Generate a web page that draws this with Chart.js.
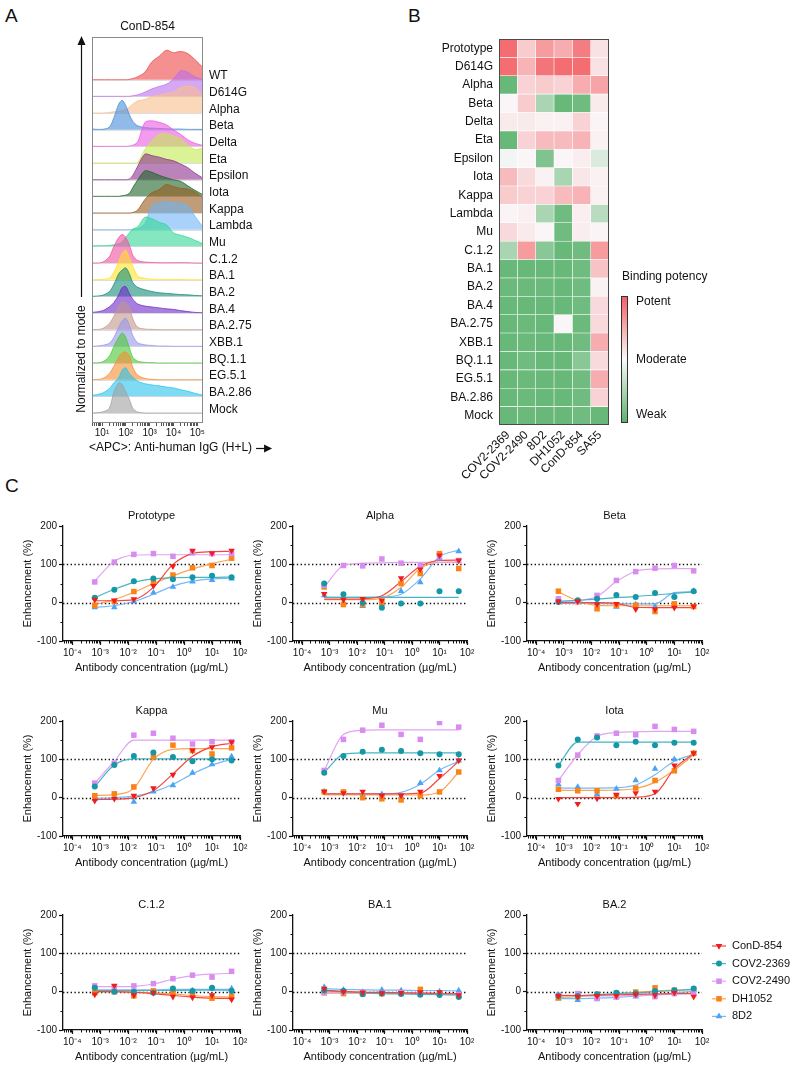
<!DOCTYPE html>
<html>
<head>
<meta charset="utf-8">
<script src="https://cdn.jsdelivr.net/npm/chart.js@4.4.1/dist/chart.umd.min.js"></script>
<style>
  body { margin: 0; background: #fff; }
  #fig { position: relative; width: 793px; height: 1068px; overflow: hidden; font-family: "Liberation Sans", Arial, sans-serif; }
  .pane { position: absolute; }
  .tag { position: absolute; font-size: 19px; color: #111; line-height: 1; }
</style>
</head>
<body>
<div id="fig">
  <div class="tag" style="left:5px;top:6px">A</div>
  <div class="tag" style="left:408px;top:6px">B</div>
  <div class="tag" style="left:5px;top:476px">C</div>
  <div class="pane" style="left:0;top:0;width:300px;height:470px"><canvas id="histo"></canvas></div>
  <div class="pane" style="left:400px;top:0;width:393px;height:500px"><canvas id="heat"></canvas></div>
</div>
<script>
const ff = '"Liberation Sans", Arial, sans-serif';
Chart.defaults.font.family = ff;
Chart.defaults.font.size = 10;
Chart.defaults.color = '#111';
Chart.defaults.animation = false;
Chart.defaults.plugins.legend.display = false;
Chart.defaults.plugins.tooltip.enabled = false;

// ---------- A: flow histograms (log10 fluorescence, height normalised to mode)
const histX = [0.6, 1.0, 1.3, 1.5, 1.7, 1.85, 2.0, 2.15, 2.3, 2.5, 2.8, 3.1, 3.4, 3.7, 4.0, 4.3, 4.6, 4.9, 5.24];
const histNames = ['WT', 'D614G', 'Alpha', 'Beta', 'Delta', 'Eta', 'Epsilon', 'Iota', 'Kappa', 'Lambda', 'Mu',
  'C.1.2', 'BA.1', 'BA.2', 'BA.4', 'BA.2.75', 'XBB.1', 'BQ.1.1', 'EG.5.1', 'BA.2.86', 'Mock'];
const histWT      = [0,0,0,0,0,0,0,0.01,0.04,0.1,0.25,0.6,0.78,0.98,0.9,0.94,0.87,0.67,0.4];
const histD614G   = [0,0,0,0,0,0,0,0,0.02,0.05,0.14,0.25,0.33,0.4,0.58,0.85,0.8,0.65,0.55];
const histAlpha   = [0,0,0.02,0.04,0.06,0.08,0.12,0.2,0.3,0.4,0.45,0.55,0.6,0.65,0.7,0.85,0.9,0.85,0.6];
const histBeta    = [0.02,0.01,0.08,0.4,0.85,0.98,0.8,0.5,0.27,0.13,0.07,0.05,0.04,0.03,0.02,0.02,0.01,0.01,0.01];
const histDelta   = [0,0,0,0,0,0,0,0.01,0.04,0.15,0.8,0.85,0.8,0.72,0.55,0.4,0.22,0.1,0.03];
const histEta     = [0,0,0,0,0,0,0,0,0,0.02,0.45,0.75,0.95,0.97,0.9,0.8,0.6,0.45,0.5];
const histEpsilon = [0,0,0,0,0,0,0,0.02,0.15,0.45,0.85,0.8,0.75,0.68,0.63,0.52,0.4,0.22,0.05];
const histIota    = [0,0,0,0,0,0.02,0.04,0.1,0.3,0.55,0.85,0.8,0.7,0.62,0.55,0.5,0.35,0.2,0.05];
const histKappa   = [0,0,0,0,0,0,0,0,0.02,0.1,0.45,0.68,0.78,0.95,0.88,0.82,0.8,0.7,0.5];
const histLambda  = [0,0,0,0,0,0,0,0,0.01,0.03,0.2,0.8,0.9,0.94,0.9,0.88,0.8,0.45,0.08];
const histMu      = [0.02,0.02,0.03,0.05,0.08,0.15,0.3,0.45,0.58,0.65,0.97,0.92,0.8,0.72,0.45,0.37,0.3,0.2,0.08];
const histC12     = [0,0.02,0.2,0.55,0.85,0.95,0.85,0.6,0.25,0.08,0.03,0.02,0.01,0.01,0.01,0.01,0.01,0,0];
const histBA1     = [0,0.01,0.05,0.25,0.6,0.88,0.98,0.72,0.45,0.12,0.04,0.02,0.01,0.01,0.01,0.01,0,0,0];
const histBA2     = [0,0.03,0.15,0.4,0.75,0.88,0.95,0.75,0.45,0.3,0.22,0.16,0.12,0.1,0.08,0.06,0.05,0.03,0.02];
const histBA4     = [0.02,0.07,0.2,0.35,0.6,0.85,0.88,0.65,0.45,0.3,0.23,0.2,0.17,0.14,0.12,0.08,0.05,0.02,0.01];
const histBA275   = [0,0.03,0.2,0.45,0.78,0.92,0.9,0.75,0.35,0.08,0.02,0.01,0,0,0,0,0,0,0];
const histXBB1    = [0,0.03,0.1,0.3,0.65,0.85,0.94,0.7,0.35,0.12,0.05,0.03,0.01,0.01,0,0,0,0,0];
const histBQ11    = [0,0.03,0.22,0.55,0.85,1.0,0.85,0.5,0.18,0.06,0.02,0.01,0,0,0,0,0,0,0];
const histEG51    = [0,0.03,0.2,0.45,0.75,0.9,0.92,0.8,0.4,0.15,0.04,0.01,0,0,0,0,0,0,0];
const histBA286   = [0.03,0.1,0.25,0.45,0.62,0.88,0.95,0.75,0.63,0.5,0.42,0.38,0.35,0.31,0.28,0.22,0.17,0.1,0.04];
const histMock    = [0,0.03,0.15,0.7,1.0,0.95,0.7,0.45,0.15,0.03,0,0,0,0,0,0,0,0,0];
const histRows = [histWT, histD614G, histAlpha, histBeta, histDelta, histEta, histEpsilon, histIota, histKappa,
  histLambda, histMu, histC12, histBA1, histBA2, histBA4, histBA275, histXBB1, histBQ11, histEG51, histBA286, histMock];
const histColors = [[238,70,70],[186,110,235],[250,190,140],[70,140,215],[235,90,225],[195,235,80],[140,50,140],
  [30,100,40],[150,90,30],[110,180,245],[50,215,150],[240,80,160],[255,225,40],[20,140,120],[110,40,200],
  [195,150,140],[150,150,235],[70,200,50],[245,140,50],[40,195,235],[160,160,160]];
const fcsTicks = [1, 2, 3, 4, 5];

// ---------- B: binding heatmap (-1 weak ... 0 moderate ... +1 potent)
const heatRows = ['Prototype', 'D614G', 'Alpha', 'Beta', 'Delta', 'Eta', 'Epsilon', 'Iota', 'Kappa', 'Lambda', 'Mu',
  'C.1.2', 'BA.1', 'BA.2', 'BA.4', 'BA.2.75', 'XBB.1', 'BQ.1.1', 'EG.5.1', 'BA.2.86', 'Mock'];
const heatCols = ['COV2-2369', 'COV2-2490', '8D2', 'DH1052', 'ConD-854', 'SA55'];
const heatCOV2369 = [0.9,0.9,-0.9,0.02,0.1,-0.9,-0.05,0.4,0.3,0.03,0.2,-0.5,-0.9,-0.88,-0.9,-0.9,-0.9,-0.9,-0.9,-0.9,-0.9];
const heatCOV2490 = [0.3,0.45,0.25,0.3,0.1,0.25,0.02,0.2,0.25,0.06,0.1,0.6,-0.9,-0.88,-0.9,-0.88,-0.88,-0.85,-0.88,-0.88,-0.88];
const heat8D2     = [0.6,0.85,0.3,-0.5,0.05,0.4,-0.75,0.05,0.25,-0.5,0.02,-0.7,-0.9,-0.88,-0.9,-0.9,-0.9,-0.9,-0.9,-0.9,-0.9];
const heatDH1052  = [0.5,0.9,0.25,-0.9,0.05,0.4,0.02,-0.5,0.4,-0.85,-0.85,-0.9,-0.9,-0.9,-0.9,0.02,-0.9,-0.9,-0.9,-0.9,-0.9];
const heatConD854 = [0.8,0.9,0.5,-0.85,0.25,0.45,0.08,0.12,0.45,0.07,0.08,-0.85,-0.85,-0.85,-0.85,-0.88,-0.85,-0.7,-0.85,-0.85,-0.85];
const heatSA55    = [0.15,0.15,0.55,0.1,0.03,0.05,-0.2,0.05,0.05,-0.4,0.03,0.6,0.35,0.05,0.2,0.2,0.5,0.2,0.5,0.25,-0.9];
const heatVals = [heatCOV2369, heatCOV2490, heat8D2, heatDH1052, heatConD854, heatSA55];

// ---------- C: ADE dose-response (series: ConD-854, COV2-2369, COV2-2490, DH1052, 8D2)
const concs = [0.00064, 0.0032, 0.016, 0.08, 0.4, 2, 10, 50];
const refLevels = [0, 100];
const protoPts = [[8,6,9,44,95,136,129,136],[13,34,56,63,61,66,70,66],[54,106,126,128,121,130,128,128],[-7,3,29,55,72,91,97,116],[-12,-12,3,26,41,55,59,63]];
const protoFit = [[5,5,8,40,100,128,133,134],[13,35,53,62,65,66,66,67],[57,108,124,125,125,125,125,125],[-5,8,27,50,70,88,102,113],[-12,-8,3,22,43,56,62,64]];
const alphaPts = [[23,8,10,6,64,87,123,110],[50,22,0,-13,-2,-2,30,30],[45,97,96,114,103,97,120,110],[41,-5,-5,0,50,76,128,89],[19,0,-9,-3,30,53,115,134]];
const alphaFit = [[9,9,10,18,55,95,110,111],[14,14,14,14,14,14,14,14],[40,97,103,104,105,105,105,105],[8,8,8,12,40,90,105,106],[14,14,14,15,22,62,120,137]];
const betaPts = [[3,3,-4,-3,-17,-17,-13,-10],[2,6,10,20,15,25,15,30],[10,3,19,58,81,90,97,83],[30,3,-16,-7,-7,-23,-3,-10],[3,2,-1,-11,-5,-10,19,30]];
const betaFit = [[0,0,0,-2,-12,-13,-13,-13],[3,6,9,13,16,20,24,28],[4,6,16,55,82,88,89,89],[28,5,-7,-8,-8,-8,-8,-8],[-2,-2,-2,-3,-3,-3,26,28]];
const kappaPts = [[-8,-3,5,25,60,123,132,145],[29,85,109,118,106,95,100,97],[38,90,163,168,155,140,146,146],[5,10,28,107,137,123,114,130],[-3,0,-11,16,32,65,87,107]];
const kappaFit = [[-5,-4,0,18,62,108,133,142],[29,85,101,101,101,101,101,101],[38,95,150,150,150,150,150,150],[6,8,25,100,126,128,128,128],[-2,0,4,15,35,62,85,100]];
const muPts = [[16,12,16,6,6,16,57,97],[65,109,120,125,122,116,113,113],[71,152,176,189,165,152,196,184],[15,15,0,-3,-6,5,15,67],[16,12,5,9,3,38,71,97]];
const muFit = [[10,10,10,10,10,12,50,95],[66,113,117,117,117,117,117,117],[71,165,176,177,177,177,177,177],[7,7,7,7,7,7,15,67],[10,10,10,10,14,35,72,95]];
const iotaPts = [[-3,-16,-2,8,12,16,84,116],[84,152,157,137,146,137,143,143],[45,111,161,168,164,186,178,173],[22,18,18,5,25,45,70,116],[35,28,9,23,45,75,100,116]];
const iotaFit = [[0,0,0,0,1,10,75,115],[84,145,145,145,145,145,145,145],[45,112,160,170,172,173,173,173],[19,19,19,20,24,40,72,112],[25,25,25,26,33,60,95,113]];
const c12Pts = [[-7,16,-9,-3,-13,-15,-9,-20],[10,0,0,-3,8,2,10,2],[15,12,15,21,34,43,38,53],[-3,0,-11,2,-3,-7,-17,-12],[13,2,0,-4,4,3,8,8]];
const c12Fit = [[0,0,-2,-5,-10,-14,-17,-18],[3,3,3,3,3,4,4,4],[13,13,14,20,33,42,46,48],[0,0,-1,-3,-6,-10,-13,-14],[5,5,5,5,6,6,6,6]];
const ba1Pts = [[8,0,-2,-4,-3,-1,-1,-9],[3,2,-7,-5,-6,-8,-9,-14],[-2,-1,-3,-4,-3,-5,-4,-8],[-3,-5,-5,-5,-3,6,-5,-10],[12,5,-1,5,3,1,0,3]];
const ba1Fit = [[4,1,-1,-2,-3,-4,-5,-6],[2,0,-3,-5,-6,-7,-8,-9],[-2,-2,-3,-3,-4,-4,-5,-5],[-4,-4,-4,-4,-4,-4,-5,-6],[8,6,5,4,4,3,3,2]];
const ba2Pts = [[-11,-13,-11,-11,-7,-9,-3,-13],[-11,-11,-7,-3,-5,2,4,8],[-9,-5,-18,-14,-9,-13,-5,-4],[-16,-13,-7,-4,-1,10,4,6],[-18,-22,-18,-15,-13,-7,-3,4]];
const ba2Fit = [[-10,-10,-9,-8,-7,-6,-5,-5],[-11,-10,-8,-5,-3,0,3,6],[-9,-10,-11,-11,-10,-9,-6,-4],[-15,-13,-10,-6,-2,2,4,5],[-18,-18,-17,-15,-12,-8,-3,1]];

const abNames = ['ConD-854', 'COV2-2369', 'COV2-2490', 'DH1052', '8D2'];
const abColors = ['#f01d1d', '#1597a6', '#d98cef', '#fb8316', '#4aa3f7'];
const abLines = ['#f4463f', '#45b5c3', '#e2a3f4', '#fca452', '#78b8f8'];
const abPoint = ['triangle', 'circle', 'rect', 'rect', 'triangle'];
const abRot = [180, 0, 0, 0, 0];
const abRadius = [3.8, 3, 3.9, 3.9, 3.8];

const supMap = {'-': '\u207B', '0': '\u2070', '1': '\u00B9', '2': '\u00B2', '3': '\u00B3', '4': '\u2074', '5': '\u2075'};
function pow10Label(e) { return '10' + String(e).split('').map(c => supMap[c]).join(''); }
function rgba(c, a) { return `rgba(${c[0]},${c[1]},${c[2]},${a})`; }

// ---------- panel A
const histDeco = {
  id: 'histDeco',
  beforeDatasetsDraw(chart) {
    const {ctx, chartArea: a, scales: {y}} = chart;
    ctx.save();
    ctx.strokeStyle = 'rgba(0,0,0,0.13)';
    ctx.lineWidth = 1;
    histNames.forEach((n, i) => {
      const py = Math.round(y.getPixelForValue(i)) + 0.5;
      ctx.beginPath(); ctx.moveTo(a.left, py); ctx.lineTo(a.right, py); ctx.stroke();
    });
    ctx.restore();
  },
  afterDraw(chart) {
    const {ctx, chartArea: a} = chart;
    ctx.save();
    ctx.strokeStyle = '#8a8a8a';
    ctx.lineWidth = 1;
    ctx.strokeRect(a.left + 0.5, a.top + 0.5, a.width - 1, a.height - 1);
    ctx.fillStyle = '#111';
    ctx.font = '12px ' + ff;
    ctx.textAlign = 'center';
    ctx.textBaseline = 'middle';
    ctx.fillText('ConD-854', (a.left + a.right) / 2, 27);
    // y arrow + label
    const ax = 81.5;
    ctx.strokeStyle = '#111';
    ctx.lineWidth = 1.2;
    ctx.beginPath(); ctx.moveTo(ax, 297); ctx.lineTo(ax, 43); ctx.stroke();
    ctx.beginPath(); ctx.moveTo(ax, 36); ctx.lineTo(ax - 4, 45); ctx.lineTo(ax + 4, 45); ctx.closePath(); ctx.fill();
    ctx.save();
    ctx.translate(ax, 359);
    ctx.rotate(-Math.PI / 2);
    ctx.fillText('Normalized to mode', 0, 0);
    ctx.restore();
    // x label + arrow
    const xt = '<APC>: Anti-human IgG (H+L)';
    ctx.textAlign = 'left';
    ctx.fillText(xt, 89, 448);
    const ex = 89 + ctx.measureText(xt).width + 4;
    ctx.beginPath(); ctx.moveTo(ex, 448.5); ctx.lineTo(ex + 9, 448.5); ctx.stroke();
    ctx.beginPath(); ctx.moveTo(ex + 16, 448.5); ctx.lineTo(ex + 8, 444.5); ctx.lineTo(ex + 8, 452.5); ctx.closePath(); ctx.fill();
    ctx.restore();
  }
};

const histMinor = [];
for (let e = 0; e <= 5; e++) for (let k = 1; k <= 9; k++) {
  const v = e + Math.log10(k);
  if (v >= 0.58 && v <= 5.24) histMinor.push(v);
}

new Chart(document.getElementById('histo'), {
  type: 'line',
  data: {
    datasets: histNames.map((name, i) => {
      const row = histNames.length - 1 - i;
      return {
        label: name,
        data: histX.map((x, k) => ({x, y: row + histRows[i][k] * 1.8})),
        fill: {value: row},
        backgroundColor: rgba(histColors[i], 0.6),
        borderColor: rgba(histColors[i], 0.95),
        borderWidth: 0.8,
        pointRadius: 0,
        tension: 0.3,
        order: row
      };
    })
  },
  options: {
    responsive: true,
    maintainAspectRatio: false,
    layout: {padding: {left: 92, top: 37, right: 0, bottom: 0}},
    scales: {
      x: {
        type: 'linear', min: 0.58, max: 5.24,
        afterBuildTicks: s => { s.ticks = histMinor.map(v => ({value: v})); },
        afterFit: s => { s.height = 47; },
        grid: {drawOnChartArea: false, tickLength: 3, color: '#555'},
        border: {display: false},
        ticks: {autoSkip: false, maxRotation: 0, padding: 1, font: {size: 10},
          callback: v => fcsTicks.includes(v) ? pow10Label(v) : ''}
      },
      y: {
        position: 'right', min: -0.6, max: 22.56,
        afterBuildTicks: s => { s.ticks = histNames.map((n, i) => ({value: histNames.length - 1 - i + 0.22})); },
        afterFit: s => { s.width = 97; },
        grid: {display: false, drawTicks: false},
        border: {display: false},
        ticks: {autoSkip: false, padding: 6, font: {size: 12}, callback: (v, i) => histNames[i]}
      }
    }
  },
  plugins: [histDeco]
});

// ---------- panel B
function potencyColor(v) {
  const w = [250, 249, 251];
  const end = v >= 0 ? [243, 94, 98] : [88, 177, 106];
  const t = Math.min(1, Math.abs(v));
  const c = w.map((x, i) => Math.round(x + (end[i] - x) * t));
  return `rgb(${c[0]},${c[1]},${c[2]})`;
}

const heatDeco = {
  id: 'heatDeco',
  afterDraw(chart) {
    const {ctx, chartArea: a} = chart;
    ctx.save();
    ctx.strokeStyle = '#4a4a4a';
    ctx.lineWidth = 1;
    ctx.strokeRect(a.left + 0.5, a.top + 0.5, a.width - 1, a.height - 1);
    const bx = a.right + 12, bw = 7, by = a.bottom - 129, bh = 127;
    const g = ctx.createLinearGradient(0, by, 0, by + bh);
    g.addColorStop(0, potencyColor(1));
    g.addColorStop(0.5, potencyColor(0));
    g.addColorStop(1, potencyColor(-1));
    ctx.fillStyle = g;
    ctx.fillRect(bx, by, bw, bh);
    ctx.strokeStyle = '#333';
    ctx.strokeRect(bx + 0.5, by + 0.5, bw - 1, bh - 1);
    ctx.fillStyle = '#111';
    ctx.font = '12px ' + ff;
    ctx.textAlign = 'left';
    ctx.textBaseline = 'middle';
    ctx.fillText('Binding potency', bx + 1, by - 19.5);
    ctx.fillText('Potent', bx + 15, by + 6);
    ctx.fillText('Moderate', bx + 15, by + bh / 2);
    ctx.fillText('Weak', bx + 15, by + bh - 8);
    ctx.restore();
  }
};

new Chart(document.getElementById('heat'), {
  type: 'bar',
  data: {
    labels: heatRows,
    datasets: heatCols.map((name, j) => ({
      label: name,
      data: heatRows.map(() => 1),
      backgroundColor: heatVals[j].map(potencyColor),
      borderColor: 'rgba(255,255,255,0.65)',
      borderWidth: 0.6,
      borderSkipped: false,
      barPercentage: 1,
      categoryPercentage: 1
    }))
  },
  options: {
    indexAxis: 'y',
    responsive: true,
    maintainAspectRatio: false,
    layout: {padding: {top: 39, right: 184, left: 0, bottom: 0}},
    scales: {
      x: {
        type: 'linear', stacked: true, min: 0, max: 6,
        afterBuildTicks: s => { s.ticks = heatCols.map((n, i) => ({value: i + 0.5})); },
        afterFit: s => { s.height = 75; },
        grid: {display: false, drawTicks: false},
        border: {display: false},
        ticks: {autoSkip: false, minRotation: 45, maxRotation: 45, padding: 3, font: {size: 12},
          callback: (v, i) => heatCols[i]}
      },
      y: {
        stacked: true,
        afterFit: s => { s.width = 99; },
        grid: {display: false, drawTicks: false},
        border: {display: false},
        ticks: {autoSkip: false, padding: 6, font: {size: 12}}
      }
    }
  },
  plugins: [heatDeco]
});

// ---------- panel C
const prismDeco = {
  id: 'prismDeco',
  beforeDatasetsDraw(chart) {
    const {ctx, chartArea: a, scales: {y}} = chart;
    ctx.save();
    ctx.strokeStyle = '#111';
    ctx.lineWidth = 1.3;
    ctx.setLineDash([1.4, 2.4]);
    refLevels.forEach(v => {
      const py = Math.round(y.getPixelForValue(v)) + 0.5;
      ctx.beginPath(); ctx.moveTo(a.left, py); ctx.lineTo(a.right, py); ctx.stroke();
    });
    ctx.restore();
  },
  afterDraw(chart, args, opts) {
    const {ctx, chartArea: a, scales: {x, y}} = chart;
    ctx.save();
    ctx.strokeStyle = '#111';
    ctx.lineWidth = 1;
    ctx.beginPath();
    for (let e = -5; e <= 1; e++) for (let k = 2; k <= 9; k++) {
      const v = k * Math.pow(10, e);
      if (v < x.min || v > x.max) continue;
      const px = Math.round(x.getPixelForValue(v)) + 0.5;
      ctx.moveTo(px, a.bottom); ctx.lineTo(px, a.bottom + 2.5);
    }
    [-50, 50, 150].forEach(v => {
      const py = Math.round(y.getPixelForValue(v)) + 0.5;
      ctx.moveTo(a.left - 2.5, py); ctx.lineTo(a.left, py);
    });
    ctx.stroke();
    ctx.fillStyle = '#111';
    ctx.font = '11px ' + ff;
    ctx.textAlign = 'center';
    ctx.textBaseline = 'middle';
    ctx.fillText(opts.title, (a.left + a.right) / 2, a.top - 10);
    if (opts.legend) {
      ctx.textAlign = 'left';
      abNames.forEach((name, s) => {
        const ly = a.top + 31 + s * 17.6;
        ctx.strokeStyle = abLines[s];
        ctx.lineWidth = 1.2;
        ctx.beginPath(); ctx.moveTo(a.right + 10, ly); ctx.lineTo(a.right + 24, ly); ctx.stroke();
        ctx.fillStyle = abColors[s];
        Chart.helpers.drawPoint(ctx, {pointStyle: abPoint[s], rotation: abRot[s], radius: abRadius[s], borderWidth: 0}, a.right + 17, ly);
        ctx.fillStyle = '#111';
        ctx.fillText(name, a.right + 30, ly);
      });
    }
    ctx.restore();
  }
};

const panelsC = [
  {title: 'Prototype', pts: protoPts, fit: protoFit},
  {title: 'Alpha', pts: alphaPts, fit: alphaFit},
  {title: 'Beta', pts: betaPts, fit: betaFit},
  {title: 'Kappa', pts: kappaPts, fit: kappaFit},
  {title: 'Mu', pts: muPts, fit: muFit},
  {title: 'Iota', pts: iotaPts, fit: iotaFit},
  {title: 'C.1.2', pts: c12Pts, fit: c12Fit},
  {title: 'BA.1', pts: ba1Pts, fit: ba1Fit},
  {title: 'BA.2', pts: ba2Pts, fit: ba2Fit}
];
const colX = [63, 293, 527], colW = [177, 174, 175];
const rowY = [526, 721, 915], plotH = 115;
const yAxW = 62, topPad = 22, xAxH = 42;

panelsC.forEach((p, idx) => {
  const c = idx % 3, r = Math.floor(idx / 3);
  const last = idx === panelsC.length - 1;
  const left = colX[c] - yAxW, top = rowY[r] - topPad;
  const width = last ? 793 - left : yAxW + colW[c] + 12;
  const height = topPad + plotH + xAxH;
  const div = document.createElement('div');
  div.className = 'pane';
  div.style.cssText = `left:${left}px;top:${top}px;width:${width}px;height:${height}px`;
  const cv = document.createElement('canvas');
  div.appendChild(cv);
  document.getElementById('fig').appendChild(div);

  const datasets = [];
  abNames.forEach((name, s) => {
    datasets.push({
      label: name,
      data: concs.map((x, i) => ({x, y: p.pts[s][i]})),
      showLine: false,
      pointStyle: abPoint[s], pointRotation: abRot[s], pointRadius: abRadius[s],
      pointBackgroundColor: abColors[s], pointBorderColor: abColors[s], pointBorderWidth: 0,
      order: s
    });
    datasets.push({
      label: name + ' fit',
      data: concs.map((x, i) => ({x, y: p.fit[s][i]})),
      borderColor: abLines[s], borderWidth: 1.2,
      pointRadius: 0, cubicInterpolationMode: 'monotone', fill: false,
      order: 10 + s
    });
  });

  new Chart(cv, {
    type: 'line',
    data: {datasets},
    options: {
      responsive: true,
      maintainAspectRatio: false,
      layout: {padding: {top: topPad, right: width - yAxW - colW[c], left: 0, bottom: 0}},
      scales: {
        x: {
          type: 'logarithmic', min: Math.pow(10, -4.33), max: 100,
          afterBuildTicks: s => { s.ticks = [-4, -3, -2, -1, 0, 1, 2].map(e => ({value: Math.pow(10, e)})); },
          afterFit: s => { s.height = xAxH; },
          grid: {drawOnChartArea: false, tickLength: 4, color: '#111', tickWidth: 1.2},
          border: {color: '#111', width: 1.3},
          ticks: {autoSkip: false, maxRotation: 0, padding: 2, font: {size: 10},
            callback: v => pow10Label(Math.round(Math.log10(v)))},
          title: {display: true, text: 'Antibody concentration (\u00B5g/mL)', font: {size: 11}, padding: {top: 0, bottom: 8}}
        },
        y: {
          min: -100, max: 200,
          afterBuildTicks: s => { s.ticks = [-100, 0, 100, 200].map(v => ({value: v})); },
          afterFit: s => { s.width = yAxW; },
          grid: {drawOnChartArea: false, tickLength: 4, color: '#111', tickWidth: 1.2},
          border: {color: '#111', width: 1.3},
          ticks: {padding: 2, font: {size: 10}},
          title: {display: true, text: 'Enhancement (%)', font: {size: 11}, padding: {top: 20, bottom: 0}}
        }
      },
      plugins: {prismDeco: {title: p.title, legend: last}}
    },
    plugins: [prismDeco]
  });
});
</script>
</body>
</html>
